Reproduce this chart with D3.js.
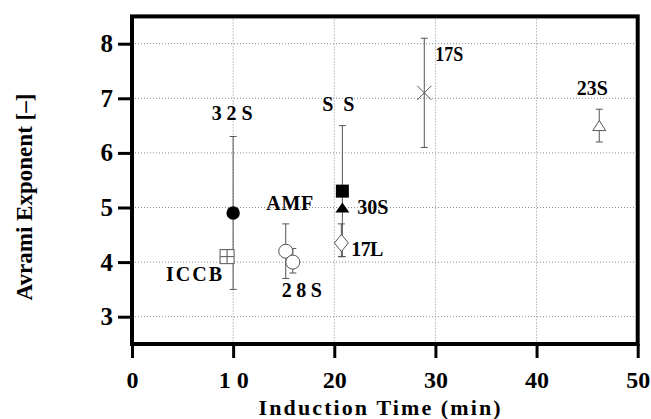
<html>
<head>
  <style>
  body {
    margin: 0;
    background: #fff;
  }
  svg text {
    font-family: "Liberation Serif", "Times New Roman", serif;
    font-weight: bold;
    fill: #000;
  }
  .axis .domain {
    display: none;
  }
  .axis .tick line {
    stroke: #000;
    stroke-width: 3px;
  }
  .grid line {
    stroke: #8a8a8a;
    stroke-width: 1px;
    stroke-dasharray: 1,2;
  }
  .err line {
    stroke: #555;
    stroke-width: 1px;
  }
  </style>
</head>
<body>
<div id="chart"></div>
<script src="https://d3js.org/d3.v7.min.js"></script>
<script>

// data
var samples = ["32S", "ICCB", "AMF", "28S", "SS", "30S", "17L", "17S", "23S"];
var inductionTime = [10.0, 9.4, 15.2, 15.9, 20.8, 20.8, 20.7, 28.9, 46.2];
var avrami = [4.9, 4.1, 4.2, 4.0, 5.3, 5.0, 4.35, 7.1, 6.5];
var errHigh = [6.3, null, 4.7, 4.25, 6.5, null, 4.7, 8.1, 6.8];
var errLow = [3.5, null, 3.7, 3.8, 4.1, null, 4.1, 6.1, 6.2];
var markers = ["filledCircle", "crossSquare", "openCircle", "openCircle", "filledSquare",
               "filledTriangle", "openDiamond", "cross", "openTriangle"];

var xTicks = [0, 10, 20, 30, 40, 50];
var xTickLabels = ["0", "1 0", "20", "30", "40", "50"];
var yTicks = [3, 4, 5, 6, 7, 8];

// label placement: anchor, dx, dy (px from the point), text width, shown text, squeeze glyphs
var labelStyle = {
  "32S":  ["middle", -1, -93, 41, "3 2 S", false],
  "ICCB": ["end", -5, 24, 56, "ICCB", false],
  "AMF":  ["middle", 4, -41, 47, "AMF", false],
  "28S":  ["middle", 9, 35, 40, "2 8 S", false],
  "SS":   ["middle", -4, -80, 32, "S S", false],
  "30S":  ["start", 15, 6, 31, "30S", false],
  "17L":  ["start", 10, 13, 32, "17L", false],
  "17S":  ["start", 11, -32, 28, "17S", true],
  "23S":  ["middle", -7, -31, 31, "23S", true]
};

var margin = {top: 16.4, left: 132},
    width = 505.7,
    height = 327.6;

var svg = d3.select("#chart")
  .append("svg")
    .attr("width", 651)
    .attr("height", 419);

var g = svg.append("g")
    .attr("transform", "translate(" + margin.left + "," + margin.top + ")");

var x = d3.scaleLinear().domain([0, 50]).range([0, width]);
var y = d3.scaleLinear().domain([2.5, 8.5]).range([height, 0]);

// grid
var grid = g.append("g").attr("class", "grid");
grid.selectAll(".gx")
  .data(xTicks.slice(1, -1))
  .enter().append("line")
    .attr("x1", function(d) { return x(d); })
    .attr("x2", function(d) { return x(d); })
    .attr("y1", 0)
    .attr("y2", height);
grid.selectAll(".gy")
  .data(yTicks)
  .enter().append("line")
    .attr("x1", 0)
    .attr("x2", width)
    .attr("y1", function(d) { return y(d); })
    .attr("y2", function(d) { return y(d); });

// axes
g.append("g")
    .attr("class", "axis")
    .attr("transform", "translate(0," + height + ")")
    .call(d3.axisBottom(x)
      .tickValues(xTicks)
      .tickSize(14)
      .tickPadding(13)
      .tickFormat(function(d, i) { return xTickLabels[i]; }))
    .selectAll("text")
      .style("font-size", "24px")
      .attr("xml:space", "preserve");

g.append("g")
    .attr("class", "axis")
    .call(d3.axisLeft(y)
      .tickValues(yTicks)
      .tickSize(14)
      .tickPadding(5)
      .tickFormat(d3.format("d")))
    .selectAll("text")
      .style("font-size", "25px");

// frame
g.append("rect")
    .attr("x", 0)
    .attr("y", 0)
    .attr("width", width)
    .attr("height", height)
    .attr("fill", "none")
    .attr("stroke", "#000")
    .attr("stroke-width", 4);

// axis titles
svg.append("text")
    .attr("x", 379.6)
    .attr("y", 415)
    .attr("text-anchor", "middle")
    .attr("textLength", 242)
    .attr("lengthAdjust", "spacing")
    .style("font-size", "22px")
    .text("Induction Time (min)");

svg.append("text")
    .attr("transform", "translate(32,197) rotate(-90)")
    .attr("text-anchor", "middle")
    .attr("textLength", 207)
    .attr("lengthAdjust", "spacing")
    .style("font-size", "23px")
    .text("Avrami Exponent [\u2013]");

var data = samples.map(function(s, i) {
  return {name: s, t: inductionTime[i], n: avrami[i], hi: errHigh[i], lo: errLow[i], m: markers[i]};
});

// error bars
var err = g.append("g").attr("class", "err");
data.filter(function(d) { return d.hi != null; }).forEach(function(d) {
  var cx = x(d.t);
  var e = err.append("g");
  e.append("line").attr("x1", cx).attr("x2", cx).attr("y1", y(d.hi)).attr("y2", y(d.lo));
  e.append("line").attr("x1", cx - 3.5).attr("x2", cx + 3.5).attr("y1", y(d.hi)).attr("y2", y(d.hi));
  e.append("line").attr("x1", cx - 3.5).attr("x2", cx + 3.5).attr("y1", y(d.lo)).attr("y2", y(d.lo));
});

// markers
var pts = g.selectAll(".pt")
  .data(data)
  .enter().append("g")
    .attr("class", "pt")
    .attr("transform", function(d) { return "translate(" + x(d.t) + "," + y(d.n) + ")"; });

pts.each(function(d) {
  var p = d3.select(this);
  if (d.m === "filledCircle") {
    p.append("circle").attr("r", 6.7).attr("fill", "#000");
  } else if (d.m === "openCircle") {
    p.append("circle").attr("r", 7).attr("fill", "#fff").attr("stroke", "#555");
  } else if (d.m === "crossSquare") {
    p.append("rect").attr("x", -7).attr("y", -7).attr("width", 14).attr("height", 14)
      .attr("fill", "#fff").attr("stroke", "#555");
    p.append("path").attr("d", "M0,-7V7M-7,0H7").attr("stroke", "#555");
  } else if (d.m === "filledSquare") {
    p.append("rect").attr("x", -6.5).attr("y", -6.5).attr("width", 13).attr("height", 13).attr("fill", "#000");
  } else if (d.m === "filledTriangle") {
    p.append("path").attr("d", "M0,-5L7,5H-7Z").attr("fill", "#000");
  } else if (d.m === "openTriangle") {
    p.append("path").attr("d", "M0,-5L6.5,5H-6.5Z").attr("fill", "#fff").attr("stroke", "#555");
  } else if (d.m === "openDiamond") {
    p.append("path").attr("d", "M0,-8.5L7,0L0,8.5L-7,0Z").attr("fill", "#fff").attr("stroke", "#555");
  } else if (d.m === "cross") {
    p.append("path").attr("d", "M-7,-7L7,7M-7,7L7,-7").attr("stroke", "#555").attr("stroke-width", 1);
  }
});

// point labels
pts.append("text")
    .attr("text-anchor", function(d) { return labelStyle[d.name][0]; })
    .attr("x", function(d) { return labelStyle[d.name][1]; })
    .attr("y", function(d) { return labelStyle[d.name][2]; })
    .attr("textLength", function(d) { return labelStyle[d.name][3]; })
    .attr("lengthAdjust", function(d) { return labelStyle[d.name][5] ? "spacingAndGlyphs" : "spacing"; })
    .attr("xml:space", "preserve")
    .style("font-size", "20px")
    .text(function(d) { return labelStyle[d.name][4]; });

</script>
</body>
</html>
